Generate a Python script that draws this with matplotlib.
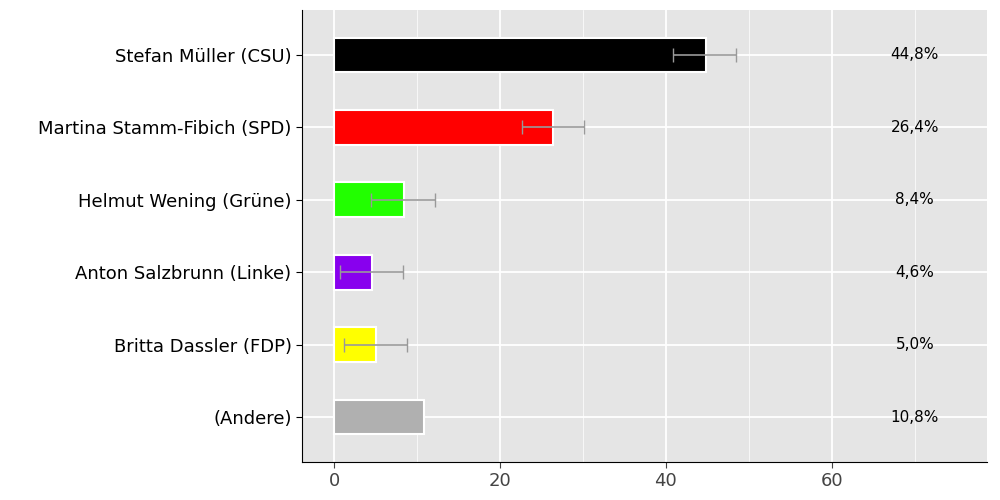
import matplotlib.pyplot as plt
import numpy as np

candidates = ['Stefan Müller (CSU)', 'Martina Stamm-Fibich (SPD)', 'Helmut Wening (Grüne)',
              'Anton Salzbrunn (Linke)', 'Britta Dassler (FDP)', '(Andere)']
values = [44.8, 26.4, 8.4, 4.6, 5.0, 10.8]
err_low = [40.8, 22.6, 4.5, 0.7, 1.2, None]
err_high = [48.5, 30.1, 12.2, 8.3, 8.8, None]
colors = ['#000000', '#ff0000', '#22ff00', '#8800ee', '#ffff00', '#b0b0b0']
labels = ['44,8%', '26,4%', '8,4%', '4,6%', '5,0%', '10,8%']

fig = plt.figure(figsize=(10, 5), dpi=100)
ax = fig.add_axes([0.302, 0.076, 0.685, 0.904])
ax.set_facecolor('#e5e5e5')
y = np.arange(len(candidates))
ax.barh(y, values, height=0.48, color=colors, edgecolor='white', linewidth=1.5, zorder=3)
for i in range(len(candidates)):
    if err_low[i] is not None:
        lo, hi = err_low[i], err_high[i]
        ax.errorbar((lo + hi) / 2, y[i], xerr=(hi - lo) / 2, fmt='none', ecolor='#999999',
                    elinewidth=1.2, capsize=5, zorder=4)
    ax.text(70, y[i], labels[i], ha='center', va='center', fontsize=11, zorder=5)

ax.set_xlim(-3.86, 78.7)
ax.set_ylim(len(candidates) - 1 + 0.62, -0.62)
ax.set_yticks(y)
ax.set_yticklabels(candidates, fontsize=13)
ax.set_xticks([0, 20, 40, 60])
ax.set_xticks([10, 30, 50, 70], minor=True)
ax.tick_params(axis='x', labelsize=13, colors='#444444', length=4)
ax.tick_params(axis='y', length=4)
ax.tick_params(axis='x', which='minor', length=0)
ax.grid(True, which='major', color='white', linewidth=1.3, zorder=0)
ax.grid(True, which='minor', axis='x', color='white', linewidth=0.5, zorder=0)
ax.set_axisbelow(True)
for s in ['top', 'right']:
    ax.spines[s].set_visible(False)
fig.savefig('out.png')
